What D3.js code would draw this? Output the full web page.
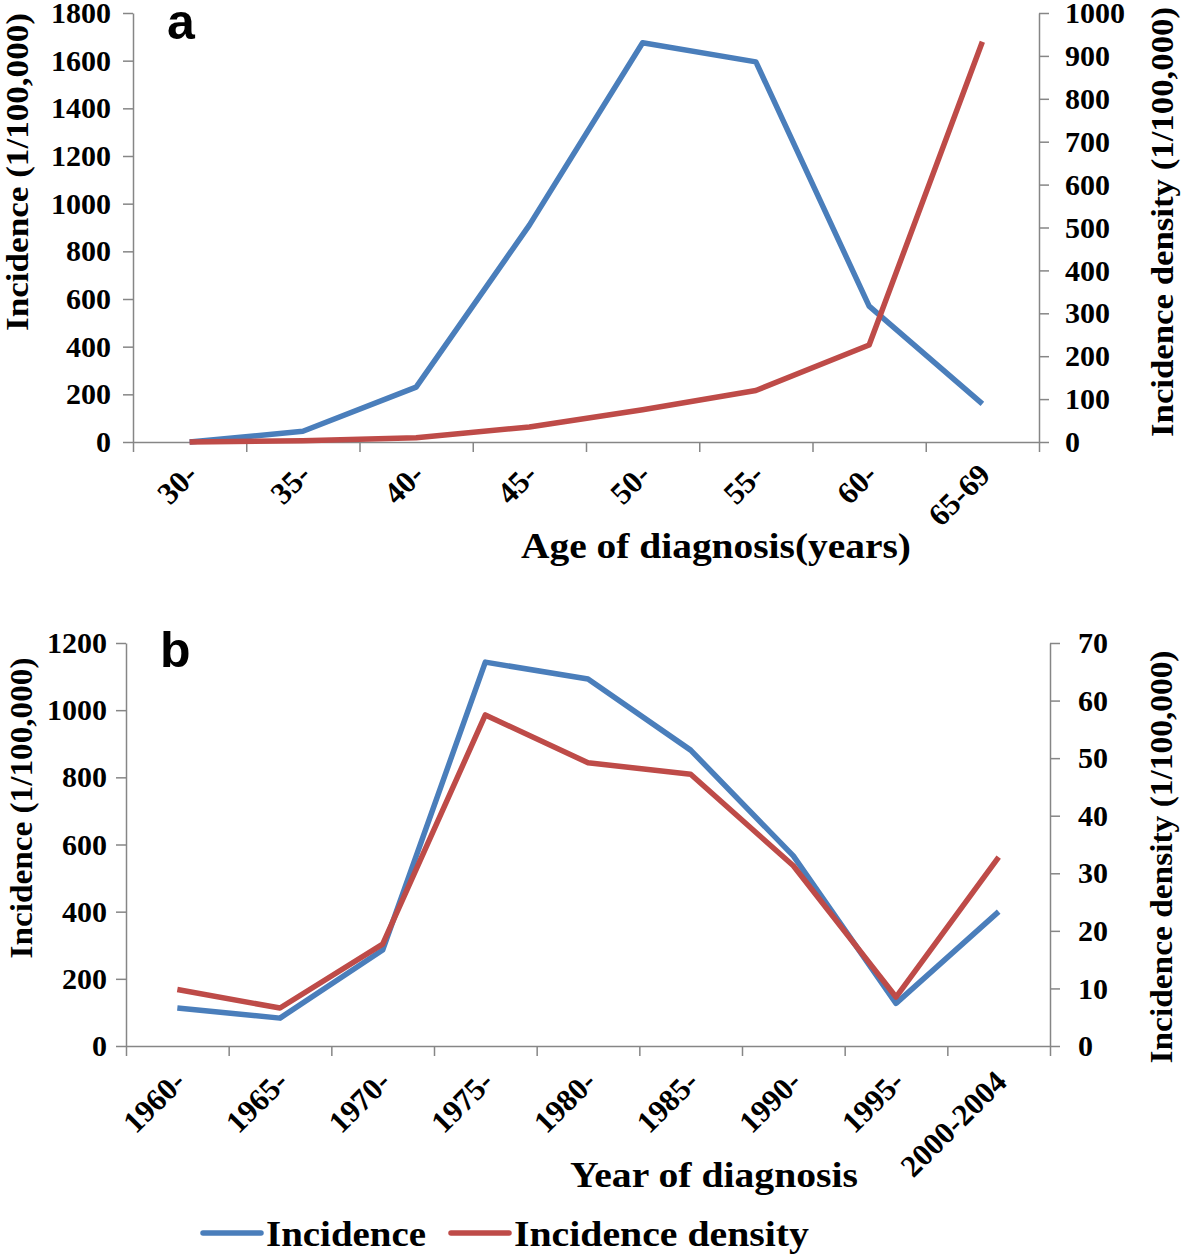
<!DOCTYPE html>
<html>
<head>
<meta charset="utf-8">
<script src="https://cdn.jsdelivr.net/npm/d3@7"></script>
<style>
  body { margin: 0; background: #fff; }
  svg text { font-family: "Liberation Serif", "Times New Roman", serif; font-weight: bold; fill: #000; }
  .axis path, .axis line { stroke: #868686; stroke-width: 1.5; }
  .letter { font-family: "Liberation Sans", Arial, sans-serif !important; }
</style>
</head>
<body>
<svg width="1181" height="1256"></svg>
<script>
const svg = d3.select("svg");

// panel a: by age of diagnosis
const ageCats = ["30-", "35-", "40-", "45-", "50-", "55-", "60-", "65-69"];
const ageIncidence = [0, 45, 230, 910, 1675, 1595, 570, 160];
const ageDensity = [0, 3, 10, 35, 75, 120, 226, 933];
const ageLeftTicks = d3.range(0, 1801, 200);
const ageRightTicks = d3.range(0, 1001, 100);

// panel b: by year of diagnosis
const yearCats = ["1960-", "1965-", "1970-", "1975-", "1980-", "1985-", "1990-", "1995-", "2000-2004"];
const yearIncidence = [113, 83, 286, 1143, 1093, 881, 566, 127, 400];
const yearDensity = [9.8, 6.6, 17.7, 57.5, 49.2, 47.2, 31.3, 8.5, 32.8];
const yearLeftTicks = d3.range(0, 1201, 200);
const yearRightTicks = d3.range(0, 71, 10);

const blue = "#4a7ebb";
const red = "#be4b48";

/**
 * Draw one dual-axis line panel
 */
drawPanel = p => {
    const g = svg.append("g");

    const x = d3.scaleBand().domain(p.cats).range([p.x0, p.x1]).padding(0);
    const cx = d => x(d) + x.bandwidth() / 2;
    const yL = d3.scaleLinear().domain([0, d3.max(p.leftTicks)]).range([p.yBot, p.yTop]);
    const yR = d3.scaleLinear().domain([0, d3.max(p.rightTicks)]).range([p.yBot, p.yTop]);

    // left axis
    const left = g.append("g").attr("class", "axis")
        .attr("transform", `translate(${p.x0},0)`)
        .call(d3.axisLeft(yL).tickValues(p.leftTicks).tickFormat(d3.format("d"))
            .tickSize(10).tickSizeOuter(0).tickPadding(p.padL));
    left.selectAll("text").style("font-size", "30px");

    // right axis
    const right = g.append("g").attr("class", "axis")
        .attr("transform", `translate(${p.x1},0)`)
        .call(d3.axisRight(yR).tickValues(p.rightTicks).tickFormat(d3.format("d"))
            .tickSize(10).tickSizeOuter(0).tickPadding(p.padR));
    right.selectAll("text").style("font-size", "30px");

    // x axis, ticks between categories
    const xb = d3.scaleLinear().domain([0, p.cats.length]).range([p.x0, p.x1]);
    g.append("g").attr("class", "axis")
        .attr("transform", `translate(0,${p.yBot})`)
        .call(d3.axisBottom(xb).tickValues(d3.range(p.cats.length + 1)).tickFormat("").tickSize(10).tickSizeOuter(0));

    // rotated category labels
    g.selectAll(".cat").data(p.cats).enter().append("text")
        .attr("class", "cat")
        .attr("transform", d => `translate(${cx(d) + 2},${p.yBot + p.catDy}) rotate(-45)`)
        .attr("text-anchor", "end")
        .attr("dy", "0.35em")
        .style("font-size", "31px")
        .text(d => d);

    // lines
    const line = (yScale) => d3.line().x((d, i) => cx(p.cats[i])).y(d => yScale(d));
    g.append("path").datum(p.left)
        .attr("d", line(yL)).attr("fill", "none")
        .attr("stroke", blue).attr("stroke-width", 5.5).attr("stroke-linejoin", "round");
    g.append("path").datum(p.right)
        .attr("d", line(yR)).attr("fill", "none")
        .attr("stroke", red).attr("stroke-width", 5.5).attr("stroke-linejoin", "round");

    // axis titles
    g.append("text")
        .attr("transform", `translate(${p.lblL[0]},${p.lblL[1]}) rotate(-90)`)
        .attr("text-anchor", "middle").attr("dy", "0.35em")
        .attr("textLength", p.lblL[2]).attr("lengthAdjust", "spacingAndGlyphs")
        .style("font-size", "32px")
        .text("Incidence (1/100,000)");
    g.append("text")
        .attr("transform", `translate(${p.lblR[0]},${p.lblR[1]}) rotate(-90)`)
        .attr("text-anchor", "middle").attr("dy", "0.35em")
        .attr("textLength", p.lblR[2]).attr("lengthAdjust", "spacingAndGlyphs")
        .style("font-size", "32px")
        .text("Incidence density (1/100,000)");
    g.append("text")
        .attr("x", p.title[0]).attr("y", p.title[1])
        .attr("text-anchor", "middle")
        .attr("textLength", p.title[2]).attr("lengthAdjust", "spacingAndGlyphs")
        .style("font-size", "36px")
        .text(p.titleText);

    // panel letter
    g.append("text").attr("class", "letter")
        .attr("x", p.x0 + 34).attr("y", p.letterY)
        .style("font-size", "50px")
        .text(p.letter);
};

drawPanel({
    cats: ageCats, left: ageIncidence, right: ageDensity,
    leftTicks: ageLeftTicks, rightTicks: ageRightTicks,
    x0: 133, x1: 1039, yTop: 13, yBot: 442, padL: 12, padR: 16, catDy: 27,
    lblL: [17, 172, 318], lblR: [1162, 222, 430],
    title: [716, 558, 390], titleText: "Age of diagnosis(years)",
    letter: "a", letterY: 39
});

drawPanel({
    cats: yearCats, left: yearIncidence, right: yearDensity,
    leftTicks: yearLeftTicks, rightTicks: yearRightTicks,
    x0: 126, x1: 1050, yTop: 643, yBot: 1046, padL: 9, padR: 18, catDy: 30,
    lblL: [21, 808, 301], lblR: [1161, 857, 413],
    title: [714, 1187, 288], titleText: "Year of diagnosis",
    letter: "b", letterY: 667
});

// legend
const legendItems = [
    { name: "Incidence", color: blue, x: 203, w: 160 },
    { name: "Incidence density", color: red, x: 451, w: 295 }
];
const legend = svg.append("g");
legendItems.forEach(d => {
    legend.append("line")
        .attr("x1", d.x).attr("x2", d.x + 58)
        .attr("y1", 1233).attr("y2", 1233)
        .attr("stroke", d.color).attr("stroke-width", 5.5).attr("stroke-linecap", "round");
    legend.append("text")
        .attr("x", d.x + 63).attr("y", 1246)
        .attr("textLength", d.w).attr("lengthAdjust", "spacingAndGlyphs")
        .style("font-size", "36px")
        .text(d.name);
});
</script>
</body>
</html>
